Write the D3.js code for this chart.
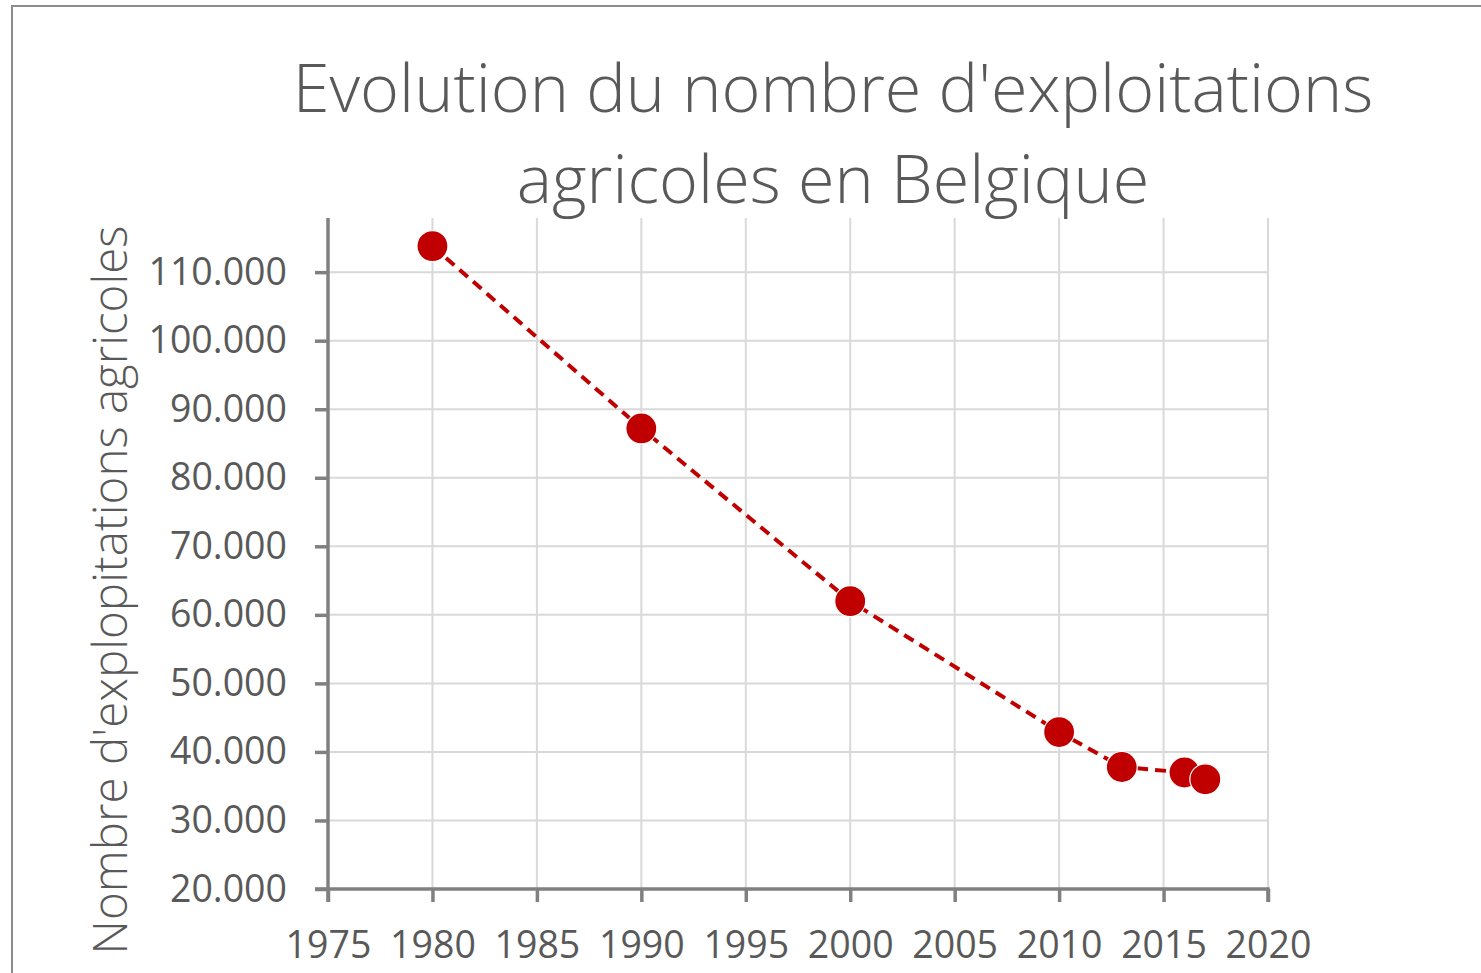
<!doctype html>
<html>
<head>
<meta charset="utf-8">
<title>Exploitations agricoles</title>
<script src="https://d3js.org/d3.v7.min.js"></script>
<style>
  body { margin: 0; background: #fff; }
  svg { display: block; }
  text { font-family: "Open Sans", "Noto Sans", sans-serif; fill: #595959; }
</style>
</head>
<body>
<svg width="1481" height="973"></svg>
<script>
// data
var years = [1980, 1990, 2000, 2010, 2013, 2016, 2017];
var farms = [113800, 87200, 62000, 42900, 37800, 37000, 36000];
var xTicks = [1975, 1980, 1985, 1990, 1995, 2000, 2005, 2010, 2015, 2020];
var yTicks = [20000, 30000, 40000, 50000, 60000, 70000, 80000, 90000, 100000, 110000];
var titleLines = ["Evolution du nombre d'exploitations", "agricoles en Belgique"];
var yTitle = "Nombre d'explopitations agricoles";

function draw() {
  var svg = d3.select("svg");
  var pLeft = 328, pRight = 1268, pTop = 218, pBottom = 889;

  // chart frame (runs off the right and bottom edges)
  svg.append("rect")
    .attr("x", 12).attr("y", 6)
    .attr("width", 1500).attr("height", 1000)
    .attr("fill", "none").attr("stroke", "#8c8c8c").attr("stroke-width", 2);

  var x = d3.scaleLinear().domain([1975, 2020]).range([pLeft, pRight]);
  var y = d3.scaleLinear().domain([20000, 117900]).range([pBottom, pTop]);

  // gridlines
  svg.append("g").selectAll("line").data(yTicks.slice(1)).enter().append("line")
    .attr("x1", pLeft).attr("x2", pRight)
    .attr("y1", d => y(d)).attr("y2", d => y(d))
    .attr("stroke", "#d9d9d9").attr("stroke-width", 2);
  svg.append("g").selectAll("line").data(xTicks.slice(1)).enter().append("line")
    .attr("x1", d => x(d)).attr("x2", d => x(d))
    .attr("y1", pTop).attr("y2", pBottom)
    .attr("stroke", "#d9d9d9").attr("stroke-width", 2);

  var fmt = d => d3.format(",")(d).replace(/,/g, ".");

  var yAxis = svg.append("g")
    .attr("transform", "translate(" + pLeft + ",0)")
    .call(d3.axisLeft(y).tickValues(yTicks).tickFormat(fmt).tickSize(13).tickPadding(28).tickSizeOuter(0));
  var xAxis = svg.append("g")
    .attr("transform", "translate(0," + pBottom + ")")
    .call(d3.axisBottom(x).tickValues(xTicks).tickFormat(d3.format("d")).tickSize(13).tickPadding(29).tickSizeOuter(0));

  [yAxis, xAxis].forEach(function(a) {
    a.select(".domain").attr("stroke", "#808080").attr("stroke-width", 3.5);
    a.selectAll(".tick line").attr("stroke", "#808080").attr("stroke-width", 3.5);
    a.selectAll(".tick text").attr("font-size", 37.5).attr("fill", "#595959")
      .style("font-family", "'Open Sans', sans-serif");
  });
  // axis lines meet at the corner
  yAxis.select(".domain").attr("d", "M0," + pTop + "V" + (pBottom + 13));
  xAxis.select(".domain").attr("d", "M" + (pLeft - 13) + ",0H" + pRight + "V13");

  // line + markers
  var line = d3.line().x((d, i) => x(years[i])).y(d => y(d));
  svg.append("path")
    .datum(farms)
    .attr("d", line)
    .attr("fill", "none")
    .attr("stroke", "#c00000")
    .attr("stroke-width", 4)
    .attr("stroke-dasharray", "11,7");

  svg.append("g").selectAll("circle").data(farms).enter().append("circle")
    .attr("cx", (d, i) => x(years[i]))
    .attr("cy", d => y(d))
    .attr("r", 15.5)
    .attr("fill", "#c00000")
    .attr("stroke", "#fff")
    .attr("stroke-width", 1.2);

  // title
  svg.append("g").selectAll("text").data(titleLines).enter().append("text")
    .attr("x", 833)
    .attr("y", (d, i) => 112 + i * 91)
    .attr("text-anchor", "middle")
    .attr("font-size", 66.5)
    .attr("font-weight", 300)
    .text(d => d);

  // y axis title
  svg.append("text")
    .attr("transform", "translate(127,590) rotate(-90)")
    .attr("text-anchor", "middle")
    .attr("font-size", 47.5)
    .attr("font-weight", 300)
    .text(yTitle);
}
draw();
</script>
</body>
</html>
